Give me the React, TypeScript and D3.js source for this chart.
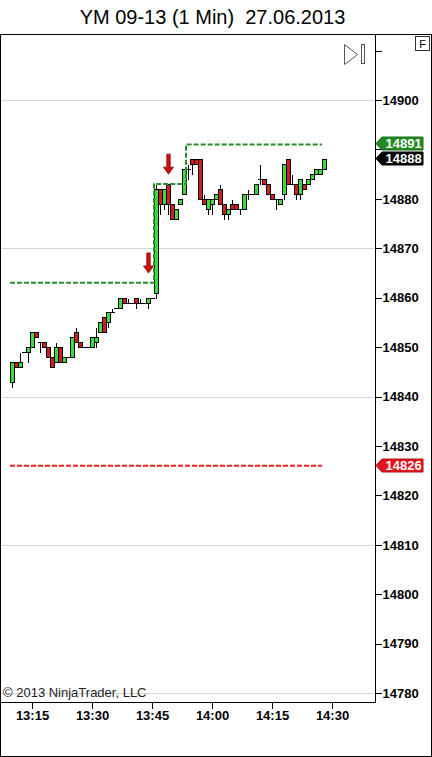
import React from 'react';
import * as d3 from 'd3';

// ---- data (1-minute bars starting 13:10) ----
const firstBarTime = '13:10';
const opens = [14843,14847,14846,14849,14849,14850,14853,14851,14851,14850,14848,14847,14850,14847,14848,14848,14853,14851,14850,14850,14850,14851,14853,14856,14855,14857,14858,14858,14860,14859,14859,14860,14859,14859,14859,14860,14861,14882,14879,14883,14879,14876,14879,14881,14886,14888,14888,14888,14880,14878,14879,14880,14882,14879,14877,14879,14879,14878,14878,14881,14881,14881,14884,14884,14883,14881,14880,14879,14881,14888,14883,14883,14881,14883,14883,14884,14885,14885,14886];
const highs = [14847,14847,14849,14849,14850,14853,14853,14851,14851,14850,14848,14851,14850,14848,14848,14852,14854,14851,14850,14850,14852,14854,14855,14856,14857,14858,14858,14860,14860,14860,14859,14860,14860,14859,14860,14860,14883,14882,14882,14883,14879,14878,14880,14886,14887,14888,14888,14888,14881,14880,14880,14881,14883,14879,14878,14880,14879,14878,14881,14882,14881,14883,14887,14884,14883,14881,14880,14880,14887,14888,14885,14883,14884,14883,14884,14885,14886,14886,14888];
const lows = [14842,14846,14846,14849,14847,14850,14852,14849,14850,14848,14846,14847,14847,14847,14848,14848,14851,14850,14850,14850,14850,14850,14853,14853,14854,14857,14858,14858,14859,14859,14859,14858,14859,14859,14858,14860,14860,14877,14878,14877,14876,14876,14879,14881,14884,14885,14887,14880,14879,14877,14877,14880,14879,14876,14876,14878,14878,14877,14878,14880,14881,14881,14883,14883,14881,14880,14878,14879,14880,14883,14883,14880,14880,14882,14883,14884,14885,14885,14886];
const closes = [14847,14846,14847,14849,14850,14853,14852,14851,14850,14848,14846,14850,14847,14848,14848,14852,14851,14850,14850,14850,14852,14852,14855,14853,14857,14857,14858,14860,14859,14859,14859,14859,14859,14859,14860,14860,14882,14879,14882,14879,14876,14878,14880,14886,14886,14887,14887,14880,14879,14880,14880,14881,14879,14877,14878,14878,14878,14878,14881,14881,14881,14883,14884,14883,14881,14880,14880,14880,14887,14883,14883,14881,14884,14882,14884,14885,14886,14886,14888];

const priceTicks = [14780,14790,14800,14810,14820,14830,14840,14850,14860,14870,14880,14890,14900,14910];
const hiddenPriceLabels = [14890, 14910];
const gridLevels = [14780,14810,14840,14870,14900];
const timeTicks = ['13:15','13:30','13:45','14:00','14:15','14:30'];

// stop line steps (bar index where level starts) and end
const stopStartBars = [-0.5, 35.5, 43.5];
const stopLevels = [14863, 14883, 14891];
const lineEndBar = 77.5;
const targetLevel = 14826;

const arrowBars = [34, 39];
const arrowPrices = [14865, 14885];

const markerPrices = [14891, 14888, 14826];
const markerKinds = ['stop', 'last', 'target'];

const title = 'YM 09-13 (1 Min)  27.06.2013';
const copyright = '\u00A9 2013 NinjaTrader, LLC';

const toMin = (s: string) => { const [h, m] = s.split(':').map(Number); return h * 60 + m; };

export default function App() {
  const W = 432, H = 757;
  const plotRight = 375, plotBottom = 702;
  const font = "Arial, 'Liberation Sans', sans-serif";

  const x = d3.scaleLinear().domain([0, 80]).range([12, 332]);
  const y = d3.scaleLinear().domain([14780, 14900]).range([693, 100]);
  const sy = (p: number) => Math.round(y(p)) + 0.5;

  const upFill = '#3ddc3d';
  const downFill = '#d01e1e';

  const t0 = toMin(firstBarTime);

  const stopPts: [number, number][] = stopStartBars.map((b, k) => [x(b), y(stopLevels[k])]);
  stopPts.push([x(lineEndBar), y(stopLevels[stopLevels.length - 1])]);
  const stepLine = d3.line().curve(d3.curveStepAfter)(stopPts) || '';

  const markerColor: Record<string, string> = { stop: '#228b22', last: '#000000', target: '#e0141c' };

  return (
    <svg width={W} height={H} style={{ position: 'absolute', left: 0, top: 0, background: '#fff' }} fontFamily={font}>
      <rect x={0} y={0} width={W} height={H} fill="#fff" />
      <text x={212.5} y={24} fontSize={20} textAnchor="middle" fill="#000" style={{ whiteSpace: 'pre' }}>{title}</text>

      {/* outer frame */}
      <rect x={0.5} y={34.5} width={W - 1} height={H - 35} fill="none" stroke="#000" />
      {/* plot frame */}
      <line x1={plotRight + 0.5} y1={34} x2={plotRight + 0.5} y2={plotBottom + 1} stroke="#000" />
      <line x1={0} y1={plotBottom + 0.5} x2={plotRight + 1} y2={plotBottom + 0.5} stroke="#000" />

      {/* grid */}
      {gridLevels.map(p => (
        <line key={p} x1={1} x2={plotRight} y1={sy(p)} y2={sy(p)} stroke="#d4d4d4" />
      ))}

      <text x={3} y={697} fontSize={13} fill="#222">{copyright}</text>

      {/* candles */}
      <g shapeRendering="crispEdges">
        {opens.map((o, i) => {
          const c = closes[i];
          const cx = Math.round(x(i));
          const top = sy(Math.max(o, c));
          const bot = sy(Math.min(o, c));
          return (
            <g key={i}>
              <line x1={cx + 0.5} x2={cx + 0.5} y1={sy(highs[i])} y2={sy(lows[i])} stroke="#000" />
              {top === bot ? (
                <line x1={cx - 2} x2={cx + 3} y1={top} y2={top} stroke="#000" />
              ) : (
                <rect x={cx - 1.5} y={top} width={4} height={bot - top} fill={c > o ? upFill : downFill} stroke="#000" />
              )}
            </g>
          );
        })}
      </g>

      {/* lines */}
      <path d={stepLine} fill="none" stroke="#2a8c2a" strokeWidth={2} strokeDasharray="5,2" />
      <line x1={x(-0.5)} x2={x(lineEndBar)} y1={y(targetLevel)} y2={y(targetLevel)} stroke="#ff1f1f" strokeWidth={2} strokeDasharray="5,2" />

      {/* arrows */}
      {arrowBars.map((b, k) => {
        const ax = x(b) + 0.5;
        const tip = y(arrowPrices[k]);
        const pts = [
          [ax - 1.7, tip - 20], [ax + 1.7, tip - 20], [ax + 1.7, tip - 7], [ax + 5, tip - 7],
          [ax, tip], [ax - 5, tip - 7], [ax - 1.7, tip - 7],
        ].map(p => p.join(',')).join(' ');
        return <polygon key={k} points={pts} fill="#d01010" stroke="#8a0000" strokeWidth={0.8} />;
      })}

      {/* price axis */}
      {priceTicks.map(p => (
        <g key={p}>
          <line x1={plotRight + 1} x2={plotRight + 7} y1={sy(p)} y2={sy(p)} stroke="#000" shapeRendering="crispEdges" />
          {!hiddenPriceLabels.includes(p) && (
            <text x={382.5} y={y(p) + 4.8} fontSize={13} fontWeight="bold" fill="#000">{p}</text>
          )}
        </g>
      ))}

      {/* price markers */}
      {markerPrices.map((p, k) => {
        const yc = Math.round(y(p)) - 0.5;
        const pts = [[376, yc], [382, yc - 6.5], [423, yc - 6.5], [423, yc + 6.5], [382, yc + 6.5]].map(q => q.join(',')).join(' ');
        const col = markerColor[markerKinds[k]];
        return (
          <g key={p}>
            <polygon points={pts} fill={col} stroke={col === '#000000' ? '#000' : d3.color(col)!.darker(0.6).toString()} />
            <text x={385.5} y={yc + 4.8} fontSize={13} fontWeight="bold" fill="#fff">{p}</text>
          </g>
        );
      })}

      {/* time axis */}
      {timeTicks.map(t => {
        const tx = Math.round(x(toMin(t) - t0)) + 0.5;
        return (
          <g key={t}>
            <line x1={tx} x2={tx} y1={plotBottom + 1} y2={plotBottom + 7} stroke="#000" />
            <text x={tx} y={720} fontSize={13} fontWeight="bold" textAnchor="middle" fill="#000">{t}</text>
          </g>
        );
      })}

      {/* top-right icons */}
      <polygon points="344.5,44.5 357.5,54.5 344.5,64.5" fill="none" stroke="#555" />
      <rect x={361.5} y={44.5} width={3} height={19} fill="#fff" stroke="#555" />
      <rect x={415.5} y={36.5} width={14} height={14} fill="#fff" stroke="#333" />
      <text x={422.5} y={47.5} fontSize={11} textAnchor="middle" fill="#000">F</text>
    </svg>
  );
}
